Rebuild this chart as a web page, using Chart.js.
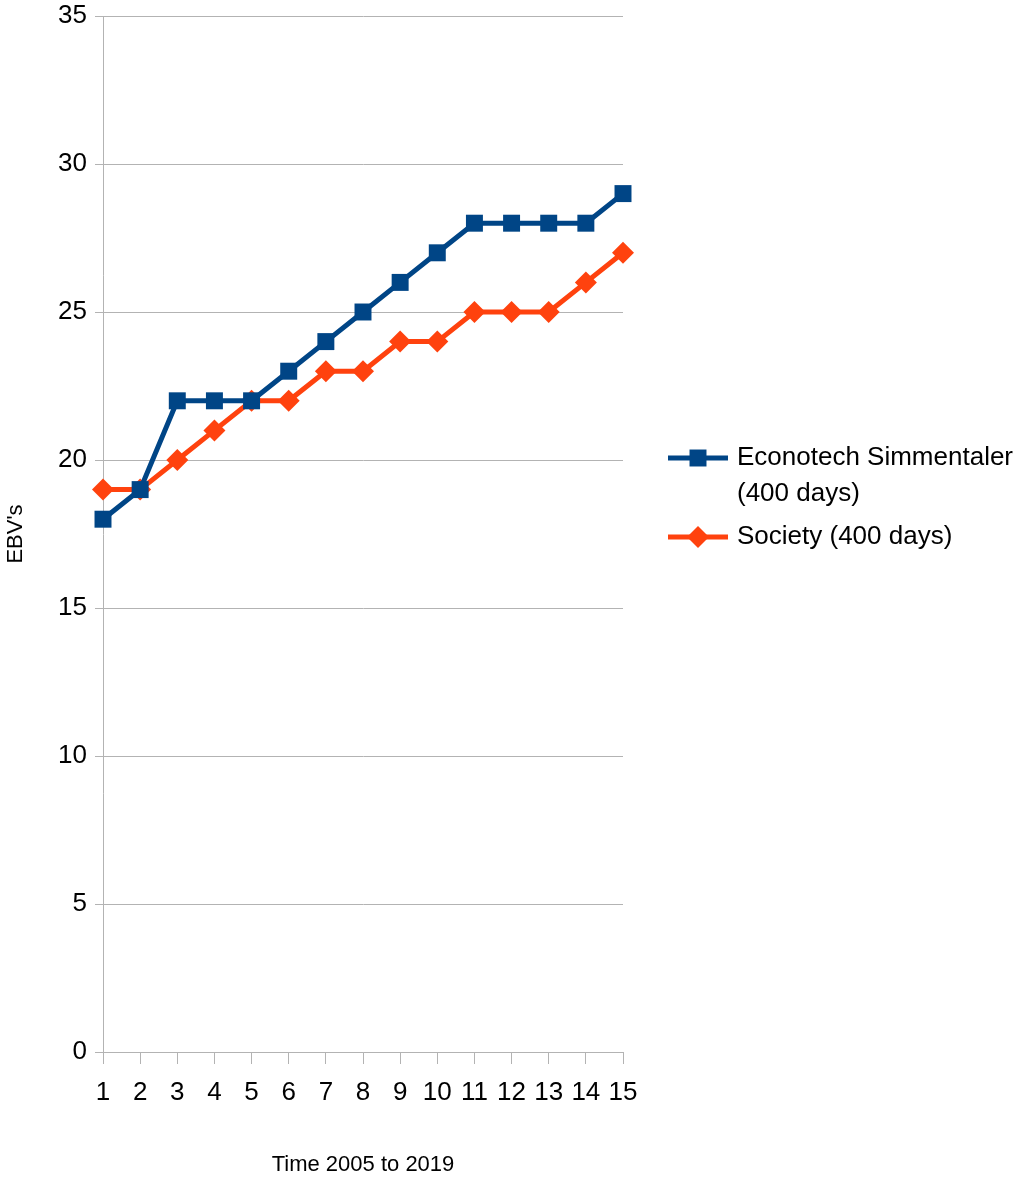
<!DOCTYPE html>
<html>
<head>
<meta charset="utf-8">
<script src="https://cdn.jsdelivr.net/npm/chart.js@4.4.1/dist/chart.umd.min.js"></script>
<style>
  html, body { margin: 0; padding: 0; background: #fff; }
  #wrap { width: 1013px; height: 1178px; }
</style>
</head>
<body>
<div id="wrap"><canvas id="EbvChart" width="1013" height="1178"></canvas></div>
<script>
(function () {
  "use strict";

  // Data
  const years = [1, 2, 3, 4, 5, 6, 7, 8, 9, 10, 11, 12, 13, 14, 15];
  const econotech = [18, 19, 22, 22, 22, 23, 24, 25, 26, 27, 28, 28, 28, 28, 29];
  const society   = [19, 19, 20, 21, 22, 22, 23, 23, 24, 24, 25, 25, 25, 26, 27];
  const seriesNames = [["Econotech Simmentaler", "(400 days)"], ["Society (400 days)"]];

  // Colors
  const blue   = '#004586';
  const orange = '#ff420e';
  const grid   = '#b3b3b3';
  const font   = "'Liberation Sans', Arial, sans-serif";

  Chart.defaults.font.family = font;
  Chart.defaults.color = '#000';

  const toXY = (arr) => arr.map((v, i) => ({ x: years[i], y: v }));

  // Right-hand legend drawn into the canvas
  const sideLegend = {
    id: 'sideLegend',
    afterDraw(chart) {
      const ctx = chart.ctx;
      const rows = [
        { color: blue, style: 'rect', y: 458, lines: seriesNames[0] },
        { color: orange, style: 'rectRot', y: 537, lines: seriesNames[1] }
      ];
      ctx.save();
      rows.forEach(r => {
        ctx.strokeStyle = r.color;
        ctx.lineWidth = 5;
        ctx.beginPath();
        ctx.moveTo(668, r.y);
        ctx.lineTo(728, r.y);
        ctx.stroke();
        ctx.fillStyle = r.color;
        Chart.helpers.drawPoint(ctx, { pointStyle: r.style, radius: r.style === 'rect' ? 12 : 11, borderWidth: 0 }, 698, r.y);
        ctx.fillStyle = '#000';
        ctx.font = "26px " + font;
        ctx.textBaseline = 'middle';
        ctx.textAlign = 'left';
        r.lines.forEach((t, i) => ctx.fillText(t, 737, r.y + i * 36));
      });
      ctx.restore();
    }
  };

  new Chart(document.getElementById('EbvChart').getContext('2d'), {
    type: 'line',
    data: {
      datasets: [{
        label: 'Econotech Simmentaler (400 days)',
        data: toXY(econotech),
        borderColor: blue,
        backgroundColor: blue,
        borderWidth: 5,
        pointStyle: 'rect',
        pointRadius: 12,
        pointBorderWidth: 0,
        tension: 0,
        clip: false
      }, {
        label: 'Society (400 days)',
        data: toXY(society),
        borderColor: orange,
        backgroundColor: orange,
        borderWidth: 5,
        pointStyle: 'rectRot',
        pointRadius: 11,
        pointBorderWidth: 0,
        tension: 0,
        clip: false
      }]
    },
    options: {
      responsive: false,
      animation: false,
      layout: { padding: { top: 16, right: 390, left: 0, bottom: 0 } },
      plugins: {
        legend: { display: false },
        tooltip: { enabled: false }
      },
      scales: {
        x: {
          type: 'linear',
          min: 1,
          max: 15,
          afterFit: (s) => { s.height = 126; s.paddingLeft = 0; s.paddingRight = 0; },
          ticks: { stepSize: 1, padding: 13, font: { size: 26 } },
          grid: { display: true, drawOnChartArea: false, color: grid, tickLength: 12, lineWidth: 1 },
          border: { color: grid },
          title: { display: true, text: 'Time 2005 to 2019', font: { size: 22 }, padding: { top: 0, bottom: 0 } }
        },
        y: {
          min: 0,
          max: 35,
          afterFit: (s) => { s.width = 103; s.paddingTop = 0; s.paddingBottom = 0; },
          ticks: { stepSize: 5, padding: 8, font: { size: 26 } },
          grid: { color: grid, tickLength: 8, lineWidth: 1 },
          border: { color: grid },
          title: { display: true, text: "EBV's", font: { size: 22 }, padding: { top: 3, bottom: 0 } }
        }
      }
    },
    plugins: [sideLegend]
  });
})();
</script>
</body>
</html>
